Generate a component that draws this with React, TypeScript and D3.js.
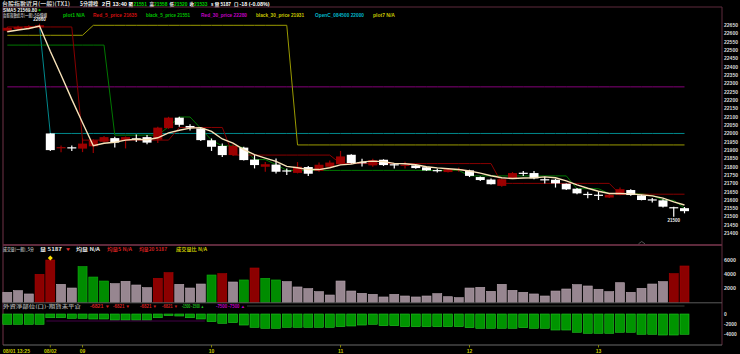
import React from 'react';
import * as d3 from 'd3';

// ---------- DATA ----------
const opens = [22618,22628,22632,22638,22000,21912,21917,21909,21923,21950,21972,21958,21971,21978,21963,22032,22095,22045,22030,21959,21925,21870,21915,21843,21800,21813,21778,21763,21798,21775,21800,21815,21872,21828,21808,21842,21815,21805,21808,21797,21780,21768,21780,21778,21738,21723,21685,21730,21764,21762,21725,21722,21698,21668,21637,21632,21615,21630,21660,21628,21604,21598,21557,21551];
const highs = [22640,22648,22650,22660,22002,21928,21928,21971,21965,21985,21980,21982,21993,21990,22040,22100,22100,22055,22035,21970,21940,21935,21920,21870,21828,21850,21790,21828,21805,21825,21838,21895,21875,21848,21848,21845,21820,21830,21812,21800,21790,21790,21795,21782,21742,21730,21730,21768,21775,21775,21740,21728,21700,21672,21650,21650,21636,21675,21665,21632,21612,21605,21560,21558];
const lows = [22610,22620,22625,22630,21895,21887,21895,21888,21883,21945,21915,21910,21949,21935,21943,22028,22040,22018,21955,21895,21858,21865,21838,21790,21770,21760,21750,21760,21745,21770,21795,21812,21818,21802,21800,21805,21790,21790,21788,21775,21765,21765,21770,21738,21715,21693,21680,21728,21745,21725,21700,21675,21660,21635,21610,21600,21612,21628,21625,21598,21585,21555,21500,21520];
const closes = [22635,22640,22645,22650,21900,21918,21913,21939,21959,21978,21945,21978,21966,21945,22035,22095,22052,22035,21960,21920,21870,21925,21840,21810,21815,21770,21773,21800,21758,21812,21825,21862,21822,21822,21840,21810,21808,21812,21792,21778,21775,21785,21786,21745,21720,21695,21725,21762,21760,21730,21720,21700,21664,21640,21632,21628,21632,21665,21630,21600,21600,21560,21553,21533];
const sma5 = [22611,22622,22631,22646,22494,22351,22205,22064,21926,21941,21947,21960,21965,21962,21974,22004,22019,22032,22035,22012,21967,21942,21903,21873,21852,21832,21802,21794,21783,21783,21794,21811,21816,21829,21834,21831,21820,21818,21812,21800,21793,21788,21783,21774,21762,21746,21734,21729,21732,21734,21739,21734,21715,21691,21671,21653,21639,21639,21637,21631,21625,21611,21589,21570];
const red5Price = [22640,22640,22640,22640,22640,22640,22640,21960,21960,21960,21960,21960,21960,21960,21960,21960,22036,22036,22036,22036,22036,21870,21870,21870,21870,21870,21870,21870,21870,21870,21870,21819,21819,21819,21819,21819,21819,21819,21819,21819,21819,21819,21819,21819,21819,21819,21700,21700,21700,21700,21700,21700,21700,21700,21700,21700,21700,21635,21635,21635,21635,21635,21635,21635];
const black5Price = [22531,22531,22531,22531,22531,22531,22531,22531,22531,22531,21990,21990,21990,21990,21990,22040,22099,22099,22030,21960,21925,21925,21915,21843,21843,21813,21778,21778,21778,21778,21778,21778,21778,21778,21778,21778,21778,21778,21778,21778,21778,21778,21778,21745,21745,21745,21745,21745,21745,21745,21745,21745,21745,21668,21668,21668,21638,21638,21638,21638,21628,21600,21598,21551];
const red30Price = Array(64).fill(22280);
const black30Price = [22590,22590,22590,22590,22590,22590,22590,22590,22650,22650,22650,22650,22650,22650,22650,22650,22650,22650,22650,22650,22650,22650,22650,22650,22650,22650,22650,21931,21931,21931,21931,21931,21931,21931,21931,21931,21931,21931,21931,21931,21931,21931,21931,21931,21931,21931,21931,21931,21931,21931,21931,21931,21931,21931,21931,21931,21931,21931,21931,21931,21931,21931,21931,21931];
const openC0845 = [null,null,null,22645,22000,22000,22000,22000,22000,22000,22000,22000,22000,22000,22000,22000,22000,22000,22000,22000,22000,22000,22000,22000,22000,22000,22000,22000,22000,22000,22000,22000,22000,22000,22000,22000,22000,22000,22000,22000,22000,22000,22000,22000,22000,22000,22000,22000,22000,22000,22000,22000,22000,22000,22000,22000,22000,22000,22000,22000,22000,22000,22000,22000];
const volumes = [1430,1660,1190,4000,6040,2570,2040,5090,3610,3040,2660,3000,2470,2090,3430,4230,2570,2040,2610,3900,4090,2900,3190,4900,3430,3190,2950,2190,1950,1520,1040,3040,1610,1280,1140,760,1140,900,760,900,1230,800,660,2040,2140,1570,2570,1710,1430,1190,900,1610,1900,2520,2330,1860,1520,2800,1430,2000,2610,2950,4090,5187];
const volumeKind = ['n','n','n','r','r','n','n','g','g','g','n','n','n','n','r','r','n','n','n','g','r','n','g','r','g','g','n','n','n','n','n','n','n','n','n','n','n','n','n','n','n','n','n','n','n','n','n','n','n','n','n','n','n','n','n','n','n','n','n','n','n','n','r','r'];
const oscValues = [-2000,-2000,-2000,-2000,-720,-720,-850,-850,-970,-970,-1165,-1165,-1165,-1165,-720,-330,-390,-720,-970,-1490,-1810,-1680,-2140,-2590,-2780,-2780,-2590,-2590,-2590,-2590,-2590,-2460,-2330,-2140,-2000,-2270,-2270,-2460,-2460,-2460,-2460,-2460,-2460,-2660,-2780,-2780,-2780,-2780,-2660,-2780,-2780,-3110,-3110,-3550,-3750,-3750,-3750,-3550,-3550,-3940,-3940,-4080,-4080,-3940];
const priceTicks = [22650,22600,22550,22500,22450,22400,22350,22300,22250,22200,22150,22100,22050,22000,21950,21900,21850,21800,21750,21700,21650,21600,21550,21500,21450,21400];
const volTicks = [6000,4000,2000];
const oscTicks = [0,-2000,-4000];
const timeTickIndex = [4,7,19,31,43,55];
const timeTickLabels = ['08/02','09','10','11','12','13'];
const firstTimeLabel = '08/01 13:25';
const legendTexts = ['plot1 N/A','Red_5_price 21635','black_5_price 21551','Red_30_price 22280','black_30_price 21931','OpenC_084500 22000','plot7 N/A'];
const headerParts = ['台股指數近月(一般)(TX1)','5分鐘線','2日 13:40','開','21551','高','21558','低','21520','收','21533','s 量','5187','口','-18 (-0.08%)'];
const volumeParts = ['成交量(一般)_5分','量 5187','▼','均量 N/A','均量5 N/A','均量20 5187','成交量比 N/A'];
const oscParts = ['外資淨部位(口)-期貨未平倉','-6821 ▼','-6821 ▼','-6821 ▼','-6821 ▼','-1500 -1500 ▲','-7500 -7500 ▲'];
const highLabel = '22660';
const lowLabel = '21500';

// ---------- STYLE ----------
const FONT = '"Liberation Sans","DejaVu Sans","Noto Sans CJK TC",sans-serif';
const CJK = '"Noto Sans CJK TC","Liberation Sans",sans-serif';
const legendColors = ['#00c000','#d01010','#00c000','#c000c0','#c8c800','#00b8c8','#c8c800'];
const legendX = [63,93,146,201,256,315,373];
const legendW = [22,44,44,46,48,49,22];
const headerX = [2,80,102,128.5,133.5,149.5,154,169.5,174,189.5,194,211,220.5,234,239.5];
const headerW = [68,18,25,4.5,13.5,4.5,13.5,4.5,13.5,4.5,13.5,8.5,10.5,4.5,30];
const headerFill = ['#c8c8c8','#e0e0e0','#fff','#fff','#00d000','#fff','#00d000','#fff','#00d000','#fff','#00d000','#fff','#fff','#fff','#fff'];
const headerCjk = [true,true,false,true,false,true,false,true,false,true,false,true,false,true,false];
const volX = [3,40,66,76,107,139,176];
const volW = [31,22,4,24,25,28,31];
const volFillTxt = ['#a8a8a8','#e8e8e8','#e03030','#e8e8e8','#d02020','#d02020','#c8c800'];
const oscX = [3,90,113,140,162,182,216];
const oscW = [78,20,17,17,16,22,29];
const oscFillTxt = ['#9a9a9a','#d02020','#d02020','#d02020','#d02020','#20c020','#c000c0'];
const BORDER = '#5e2a3c';

export default function App() {
  const x = d3.scaleLinear().domain([0, 63]).range([7.3, 684.5]);
  const y = d3.scaleLinear().domain([21400, 22650]).range([233.3, 25.3]);
  const yv = d3.scaleLinear().domain([0, 6000]).range([302.3, 260.3]);
  const yo = d3.scaleLinear().domain([0, -4000]).range([314, 334.6]);
  const bw = 9;

  const mk = (arr: (number | null)[]) =>
    d3.line<number | null>()
      .defined(d => d != null)
      .x((_, i) => x(i))
      .y(d => y(d as number))(arr) || '';

  const volFill: Record<string, string> = { n: '#978690', r: '#8c0000', g: '#008c00' };
  const volStroke: Record<string, string> = { n: '#b5a3ad', r: '#a80000', g: '#10b010' };

  const T = (props: any) => <text lengthAdjust="spacingAndGlyphs" {...props} />;

  return (
    <svg width={740} height={354} style={{ position: 'absolute', left: 0, top: 0, background: '#000' }}
      fontFamily={FONT}>
      <rect x={0} y={0} width={740} height={354} fill="#000" />

      {/* header */}
      <text y={6} fontSize={6} fontWeight="bold">
        {headerParts.map((t, i) => (
          <tspan key={i} x={headerX[i]} fill={headerFill[i]} fontFamily={headerCjk[i] ? CJK : FONT}
            fontSize={headerCjk[i] && i > 1 ? 5 : 6} textLength={headerW[i]} lengthAdjust="spacingAndGlyphs">{t}</tspan>
        ))}
      </text>

      {/* main panel frame */}
      <line x1={3} y1={7} x2={722} y2={7} stroke={BORDER} strokeWidth={1} />
      <line x1={3} y1={7} x2={3} y2={345} stroke={BORDER} strokeWidth={1.2} />
      <line x1={722} y1={7} x2={722} y2={345} stroke={BORDER} strokeWidth={1} />

      <T x={3} y={11.8} fill="#f0f0f0" fontSize={5} fontWeight="bold" textLength={34}>SMA5 21569.80</T>
      <circle cx={39.5} cy={10.2} r={1.1} fill="#00c000" />
      <text y={16.8} fontSize={4.6} fontWeight="bold">
        <tspan x={3} fill="#b0b0b0" fontFamily={CJK} textLength={44} lengthAdjust="spacingAndGlyphs">台股指數近月(一般)-5分鐘線</tspan>
        {legendTexts.map((t, i) => (
          <tspan key={t} x={legendX[i]} fill={legendColors[i]} textLength={legendW[i]} lengthAdjust="spacingAndGlyphs">{t}</tspan>
        ))}
      </text>

      {/* price axis */}
      {priceTicks.map(v => (
        <T key={v} x={724} y={y(v) + 1.8} fill="#d8d8d8" fontSize={5} fontWeight="bold" textLength={14}>{v}</T>
      ))}

      {/* step lines */}
      <path d={mk(red30Price)} fill="none" stroke="#86007a" strokeWidth={1} />
      <path d={mk(openC0845)} fill="none" stroke="#00888c" strokeWidth={1} />
      <path d={mk(black30Price)} fill="none" stroke="#9a9a00" strokeWidth={1} />
      <path d={mk(black5Price)} fill="none" stroke="#007800" strokeWidth={1} />
      <path d={mk(red5Price)} fill="none" stroke="#880000" strokeWidth={1} />

      {/* candles */}
      {closes.map((c, i) => {
        const o = opens[i];
        const up = c > o;
        const col = up ? '#9c0000' : '#ffffff';
        const top = y(Math.max(o, c));
        const h = Math.max(1.2, Math.abs(y(o) - y(c)));
        return (
          <g key={i}>
            <line x1={x(i)} x2={x(i)} y1={y(highs[i])} y2={y(lows[i])} stroke={col} strokeWidth={1.2} />
            <rect x={x(i) - bw / 2} y={top} width={bw} height={h} fill={col} />
          </g>
        );
      })}

      <path d={mk(sma5)} fill="none" stroke="#f8e2b8" strokeWidth={1.4} />

      <text x={x(3)} y={y(highs[3]) - 2.5} fill="#e8e8e8" fontSize={4.5} fontWeight="bold" textAnchor="middle">{highLabel}</text>
      <text x={x(62)} y={y(lows[62]) + 5} fill="#e8e8e8" fontSize={4.5} fontWeight="bold" textAnchor="middle">{lowLabel}</text>

      {/* volume panel */}
      <line x1={3} y1={245} x2={722} y2={245} stroke={BORDER} strokeWidth={2} />
      <path d="M638.5,243.8 L641.7,241.5 L645,243.8" fill="none" stroke="#888" strokeWidth={0.6} />
      <text y={250.8} fontSize={4.5} fontWeight="bold" fontFamily={CJK}>
        {volumeParts.map((t, i) => (
          <tspan key={i} x={volX[i]} fill={volFillTxt[i]} fontSize={i === 2 ? 3.5 : 4.5}
            textLength={volW[i]} lengthAdjust="spacingAndGlyphs">{t}</tspan>
        ))}
      </text>
      {volumes.map((v, i) => (
        <rect key={i} x={x(i) - bw / 2} y={yv(v)} width={bw} height={yv(0) - yv(v)}
          fill={volFill[volumeKind[i]]} stroke={volStroke[volumeKind[i]]} strokeWidth={0.6} />
      ))}
      <path d={`M${x(4)},${yv(volumes[4]) - 4.5} l2.5,2.5 l-2.5,2.5 l-2.5,-2.5 z`} fill="#ffe000" />
      {volTicks.map(v => (
        <T key={v} x={724} y={yv(v) + 1.8} fill="#d8d8d8" fontSize={5} fontWeight="bold" textLength={12}>{v}</T>
      ))}

      {/* lower panel */}
      <line x1={3} y1={302.8} x2={722} y2={302.8} stroke="#5a5a5a" strokeWidth={1} />
      <text y={307.8} fontSize={4.5} fontWeight="bold">
        {oscParts.map((t, i) => (
          <tspan key={i} x={oscX[i]} fill={oscFillTxt[i]} fontFamily={i === 0 ? CJK : FONT}
            textLength={oscW[i]} lengthAdjust="spacingAndGlyphs">{t}</tspan>
        ))}
      </text>
      <line x1={247} y1={306} x2={x(63)} y2={306} stroke="#4a524a" strokeWidth={0.8} />
      {oscValues.map((v, i) => (
        <rect key={i} x={x(i) - bw / 2} y={yo(0)} width={bw} height={yo(v) - yo(0)}
          fill="#009400" stroke="#22c422" strokeWidth={0.6} />
      ))}
      <line x1={x(4) - 4} y1={321} x2={x(18) + 4} y2={321} stroke="#55005a" strokeWidth={0.8} />
      {oscTicks.map(v => (
        <text key={v} x={724} y={yo(v) + 1.8} fill="#d8d8d8" fontSize={5} fontWeight="bold">{v}</text>
      ))}

      {/* time axis */}
      <line x1={3} y1={345} x2={722} y2={345} stroke="#6a6a6a" strokeWidth={1} />
      <T x={3} y={352.8} fill="#c8c800" fontSize={5} fontWeight="bold" textLength={27}>{firstTimeLabel}</T>
      {timeTickIndex.map((ti, k) => (
        <g key={ti}>
          <line x1={x(ti)} x2={x(ti)} y1={345} y2={347.5} stroke="#a0a000" strokeWidth={0.8} />
          <text x={x(ti)} y={352.8} fill="#c8c800" fontSize={5} fontWeight="bold" textAnchor="middle">{timeTickLabels[k]}</text>
        </g>
      ))}
    </svg>
  );
}
